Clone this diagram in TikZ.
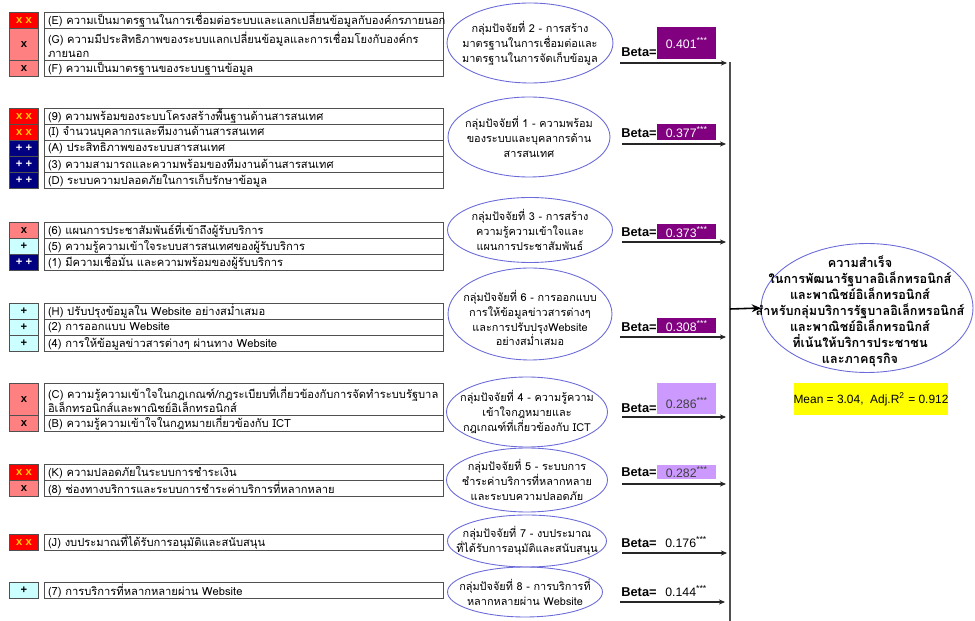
\documentclass[tikz,border=0pt]{standalone}
\usepackage{fontspec}
\setmainfont{Liberation Sans}
\newfontfamily\thaifont[Script=Thai]{Loma}
\usetikzlibrary{shapes.geometric,arrows.meta,positioning}

\definecolor{tagred}{HTML}{FF0000}
\definecolor{tagyellow}{HTML}{FFCC00}
\definecolor{tagpink}{HTML}{FF8080}
\definecolor{tagnavy}{HTML}{000080}
\definecolor{tagcyan}{HTML}{CCFFFF}
\definecolor{linegray}{HTML}{505050}
\definecolor{ellblue}{HTML}{6A6AD8}
\definecolor{valdark}{HTML}{800080}
\definecolor{vallight}{HTML}{CC99FF}
\definecolor{meanyellow}{HTML}{FFFF00}

\newcommand{\rowfont}{\thaifont\fontsize{6.35}{7.8}\selectfont}
\newcommand{\ellfont}{\thaifont\fontsize{6.2}{8.5}\selectfont}
\newcommand{\goalfont}{\thaifont\bfseries\fontsize{7.2}{9.1}\selectfont}

\tikzset{
  rowbox/.style={draw=linegray, line width=0.6pt, anchor=north west, text width=7.84cm,
    inner xsep=0.07cm, inner ysep=0pt, align=left, font=\rowfont},
  tagbox/.style={draw=linegray, line width=0.6pt, anchor=north west, minimum width=0.58cm,
    inner sep=0pt, font=\bfseries\fontsize{6.4}{7}\selectfont},
  redxx/.style={tagbox, fill=tagred, text=tagyellow},
  pinkx/.style={tagbox, fill=tagpink},
  navypp/.style={tagbox, fill=tagnavy, text=white},
  cyanp/.style={tagbox, fill=tagcyan},
  hone/.style={minimum height=0.32cm},
  htwo/.style={minimum height=0.64cm},
  factor/.style={ellipse, draw=ellblue, line width=0.5pt, inner sep=0pt},
  factortxt/.style={align=center, inner sep=0pt, font=\ellfont},
  betalbl/.style={anchor=west, inner sep=0pt, font=\bfseries\fontsize{7.3}{8}\selectfont},
  valbox/.style={anchor=north west, minimum width=1.18cm, inner sep=0pt, font=\fontsize{7}{8}\selectfont},
  betaline/.style={-{Stealth[length=3.5pt,width=3pt]}, line width=0.6pt, draw=black!85}
}

\begin{document}
\begin{tikzpicture}[x=0.02cm,y=-0.02cm]
        \useasboundingbox (0,0) rectangle (975,621);
        % Gruppe 2 - Standards
        \node[redxx, hone] (tE) at (9,12) {x x};
        \node[rowbox, hone] (rE) at (44,12) {(E) ความเป็นมาตรฐานในการเชื่อมต่อระบบและแลกเปลี่ยนข้อมูลกับองค์กรภายนอก};
        \node[pinkx, htwo] (tG) at (9,28) {x};
        \node[rowbox, htwo] (rG) at (44,28) {(G) ความมีประสิทธิภาพของระบบแลกเปลี่ยนข้อมูลและการเชื่อมโยงกับองค์กร\\ภายนอก};
        \node[pinkx, hone] (tF) at (9,60) {x};
        \node[rowbox, hone] (rF) at (44,60) {(F) ความเป็นมาตรฐานของระบบฐานข้อมูล};
        % Gruppe 1 - IT
        \node[redxx, hone] (t9) at (9,108) {x x};
        \node[rowbox, hone] (r9) at (44,108) {(9) ความพร้อมของระบบโครงสร้างพื้นฐานด้านสารสนเทศ};
        \node[redxx, hone] (tI) at (9,124) {x x};
        \node[rowbox, hone] (rI) at (44,124) {(I) จำนวนบุคลากรและทีมงานด้านสารสนเทศ};
        \node[navypp, hone] (tA) at (9,140) {+ +};
        \node[rowbox, hone] (rA) at (44,140) {(A) ประสิทธิภาพของระบบสารสนเทศ};
        \node[navypp, hone] (t3) at (9,156) {+ +};
        \node[rowbox, hone] (r3) at (44,156) {(3) ความสามารถและความพร้อมของทีมงานด้านสารสนเทศ};
        \node[navypp, hone] (tD) at (9,172) {+ +};
        \node[rowbox, hone] (rD) at (44,172) {(D) ระบบความปลอดภัยในการเก็บรักษาข้อมูล};
        % Gruppe 3 - PR
        \node[pinkx, hone] (t6) at (9,222) {x};
        \node[rowbox, hone] (r6) at (44,222) {(6) แผนการประชาสัมพันธ์ที่เข้าถึงผู้รับบริการ};
        \node[cyanp, hone] (t5) at (9,238) {+};
        \node[rowbox, hone] (r5) at (44,238) {(5) ความรู้ความเข้าใจระบบสารสนเทศของผู้รับบริการ};
        \node[navypp, hone] (t1) at (9,254) {+ +};
        \node[rowbox, hone] (r1) at (44,254) {(1) มีความเชื่อมั่น และความพร้อมของผู้รับบริการ};
        % Gruppe 6 - Website
        \node[cyanp, hone] (tH) at (9,303) {+};
        \node[rowbox, hone] (rH) at (44,303) {(H) ปรับปรุงข้อมูลใน Website อย่างสม่ำเสมอ};
        \node[cyanp, hone] (t2) at (9,319) {+};
        \node[rowbox, hone] (r2) at (44,319) {(2) การออกแบบ Website};
        \node[cyanp, hone] (t4) at (9,335) {+};
        \node[rowbox, hone] (r4) at (44,335) {(4) การให้ข้อมูลข่าวสารต่างๆ ผ่านทาง Website};
        % Gruppe 4 - Recht
        \node[pinkx, htwo] (tC) at (9,383) {x};
        \node[rowbox, htwo] (rC) at (44,383) {(C) ความรู้ความเข้าใจในกฎเกณฑ์/กฎระเบียบที่เกี่ยวข้องกับการจัดทำระบบรัฐบาล\\อิเล็กทรอนิกส์และพาณิชย์อิเล็กทรอนิกส์};
        \node[pinkx, hone] (tB) at (9,415) {x};
        \node[rowbox, hone] (rB) at (44,415) {(B) ความรู้ความเข้าใจในกฎหมายเกี่ยวข้องกับ ICT};
        % Gruppe 5 - Zahlung
        \node[redxx, hone] (tK) at (9,464) {x x};
        \node[rowbox, hone] (rK) at (44,464) {(K) ความปลอดภัยในระบบการชำระเงิน};
        \node[pinkx, hone] (t8) at (9,480) {x};
        \node[rowbox, hone] (r8) at (44,480) {(8) ช่องทางบริการและระบบการชำระค่าบริการที่หลากหลาย};
        % Gruppe 7 - Budget
        \node[redxx, hone] (tJ) at (9,534) {x x};
        \node[rowbox, hone] (rJ) at (44,534) {(J) งบประมาณที่ได้รับการอนุมัติและสนับสนุน};
        % Gruppe 8 - Dienste
        \node[cyanp, hone] (t7) at (9,582) {+};
        \node[rowbox, hone] (r7) at (44,582) {(7) การบริการที่หลากหลายผ่าน Website};

        % Ellipsen der Faktorgruppen
        \node[factor, minimum width=3.32cm, minimum height=1.6cm] (g2) at (530,43) {};
        \node[factortxt] (g2t) at (g2) {กลุ่มปัจจัยที่ 2 - การสร้าง\\มาตรฐานในการเชื่อมต่อและ\\มาตรฐานในการจัดเก็บข้อมูล};
        \node[factor, minimum width=3.24cm, minimum height=1.6cm] (g1) at (529,137) {};
        \node[factortxt] (g1t) at (g1) {กลุ่มปัจจัยที่ 1 - ความพร้อม\\ของระบบและบุคลากรด้าน\\สารสนเทศ};
        \node[factor, minimum width=3.3cm, minimum height=1.3cm] (g3) at (530,230) {};
        \node[factortxt] (g3t) at (g3) {กลุ่มปัจจัยที่ 3 - การสร้าง\\ความรู้ความเข้าใจและ\\แผนการประชาสัมพันธ์};
        \node[factor, minimum width=3.28cm, minimum height=1.84cm] (g6) at (530,314) {};
        \node[factortxt] (g6t) at (530,318) {กลุ่มปัจจัยที่ 6 - การออกแบบ\\การให้ข้อมูลข่าวสารต่างๆ\\และการปรับปรุงWebsite\\อย่างสม่ำเสมอ};
        \node[factor, minimum width=3.22cm, minimum height=1.4cm] (g4) at (527,412) {};
        \node[factortxt] (g4t) at (g4) {กลุ่มปัจจัยที่ 4 - ความรู้ความ\\เข้าใจกฎหมายและ\\กฎเกณฑ์ที่เกี่ยวข้องกับ ICT};
        \node[factor, minimum width=3.22cm, minimum height=1.28cm] (g5) at (527,480) {};
        \node[factortxt] (g5t) at (g5) {กลุ่มปัจจัยที่ 5 - ระบบการ\\ชำระค่าบริการที่หลากหลาย\\และระบบความปลอดภัย};
        \node[factor, minimum width=3.18cm, minimum height=1.04cm] (g7) at (527,541) {};
        \node[factortxt] (g7t) at (g7) {กลุ่มปัจจัยที่ 7 - งบประมาณ\\ที่ได้รับการอนุมัติและสนับสนุน};
        \node[factor, minimum width=3.1cm, minimum height=1.0cm] (g8) at (525,592) {};
        \node[factortxt] (g8t) at (g8) {กลุ่มปัจจัยที่ 8 - การบริการที่\\หลากหลายผ่าน Website};

        % Sammelleitung
        \coordinate (top) at (730,62);
        \coordinate (bot) at (730,621);
        \draw[linegray, line width=0.7pt] (top) -- (bot);

        % Beta - Gruppe 2
        \node[betalbl] (beta2) at (621,52) {Beta=};
        \node[valbox, fill=valdark, text=white, minimum height=0.64cm] (val2) at (657,27) {0.401\textsuperscript{***}};
        \coordinate (a2s) at (620,63); \coordinate (a2e) at (727,63);
        \draw[betaline] (a2s) -- (a2e);
        % Beta - Gruppe 1
        \node[betalbl] (beta1) at (621,133) {Beta=};
        \node[valbox, fill=valdark, text=white, minimum height=0.32cm] (val1) at (657,124) {0.377\textsuperscript{***}};
        \coordinate (a1s) at (622,144); \coordinate (a1e) at (726,144);
        \draw[betaline] (a1s) -- (a1e);
        % Beta - Gruppe 3
        \node[betalbl] (beta3) at (621,232) {Beta=};
        \node[valbox, fill=valdark, text=white, minimum height=0.3cm] (val3) at (657,224) {0.373\textsuperscript{***}};
        \coordinate (a3s) at (622,242); \coordinate (a3e) at (726,242);
        \draw[betaline] (a3s) -- (a3e);
        % Beta - Gruppe 6
        \node[betalbl] (beta6) at (621,327) {Beta=};
        \node[valbox, fill=valdark, text=white, minimum height=0.3cm] (val6) at (657,318) {0.308\textsuperscript{***}};
        \coordinate (a6s) at (620,337); \coordinate (a6e) at (726,337);
        \draw[betaline] (a6s) -- (a6e);
        % Beta - Gruppe 4
        \node[betalbl] (beta4) at (621,408) {Beta=};
        \node[valbox, fill=vallight, text=black!75, text height=0.5cm, text depth=0.12cm] (val4) at (657,383) {0.286\textsuperscript{***}};
        \coordinate (a4s) at (622,417); \coordinate (a4e) at (726,417);
        \draw[betaline] (a4s) -- (a4e);
        % Beta - Gruppe 5
        \node[betalbl] (beta5) at (621,472) {Beta=};
        \node[valbox, fill=vallight, text=black!75, minimum height=0.28cm] (val5) at (657,465) {0.282\textsuperscript{***}};
        \coordinate (a5s) at (622,484); \coordinate (a5e) at (726,484);
        \draw[betaline] (a5s) -- (a5e);
        % Beta - Gruppe 7
        \node[betalbl] (beta7) at (621,543) {Beta=};
        \node[betalbl, font=\fontsize{7}{8}\selectfont] (val7) at (665,542) {0.176\textsuperscript{***}};
        \coordinate (a7s) at (622,553); \coordinate (a7e) at (727,553);
        \draw[betaline] (a7s) -- (a7e);
        % Beta - Gruppe 8
        \node[betalbl] (beta8) at (621,592) {Beta=};
        \node[betalbl, font=\fontsize{7}{8}\selectfont] (val8) at (665,591) {0.144\textsuperscript{***}};
        \coordinate (a8s) at (620,602); \coordinate (a8e) at (725,602);
        \draw[betaline] (a8s) -- (a8e);

        % Ziel - Erfolg
        \node[factor, minimum width=4.24cm, minimum height=2.58cm] (goal) at (867,308) {};
        \node[align=center, inner sep=0pt, font=\goalfont] (goalt) at (860,311) {ความสำเร็จ\\ในการพัฒนารัฐบาลอิเล็กทรอนิกส์\\และพาณิชย์อิเล็กทรอนิกส์\\สำหรับกลุ่มบริการรัฐบาลอิเล็กทรอนิกส์\\และพาณิชย์อิเล็กทรอนิกส์\\ที่เน้นให้บริการประชาชน\\และภาคธุรกิจ};
        \coordinate (mid) at (730,309);
        \draw[-{Stealth[length=5pt,width=4.5pt]}, line width=0.9pt] (mid) -- (goal.west);
        % Mean / R^2
        \node[fill=meanyellow, minimum width=2.98cm, minimum height=0.64cm, inner sep=0pt, font=\fontsize{6.8}{8}\selectfont] (mean) at (871,399) {Mean = 3.04,\ \ Adj.R\textsuperscript{2} = 0.912};
\end{tikzpicture}
\end{document}
